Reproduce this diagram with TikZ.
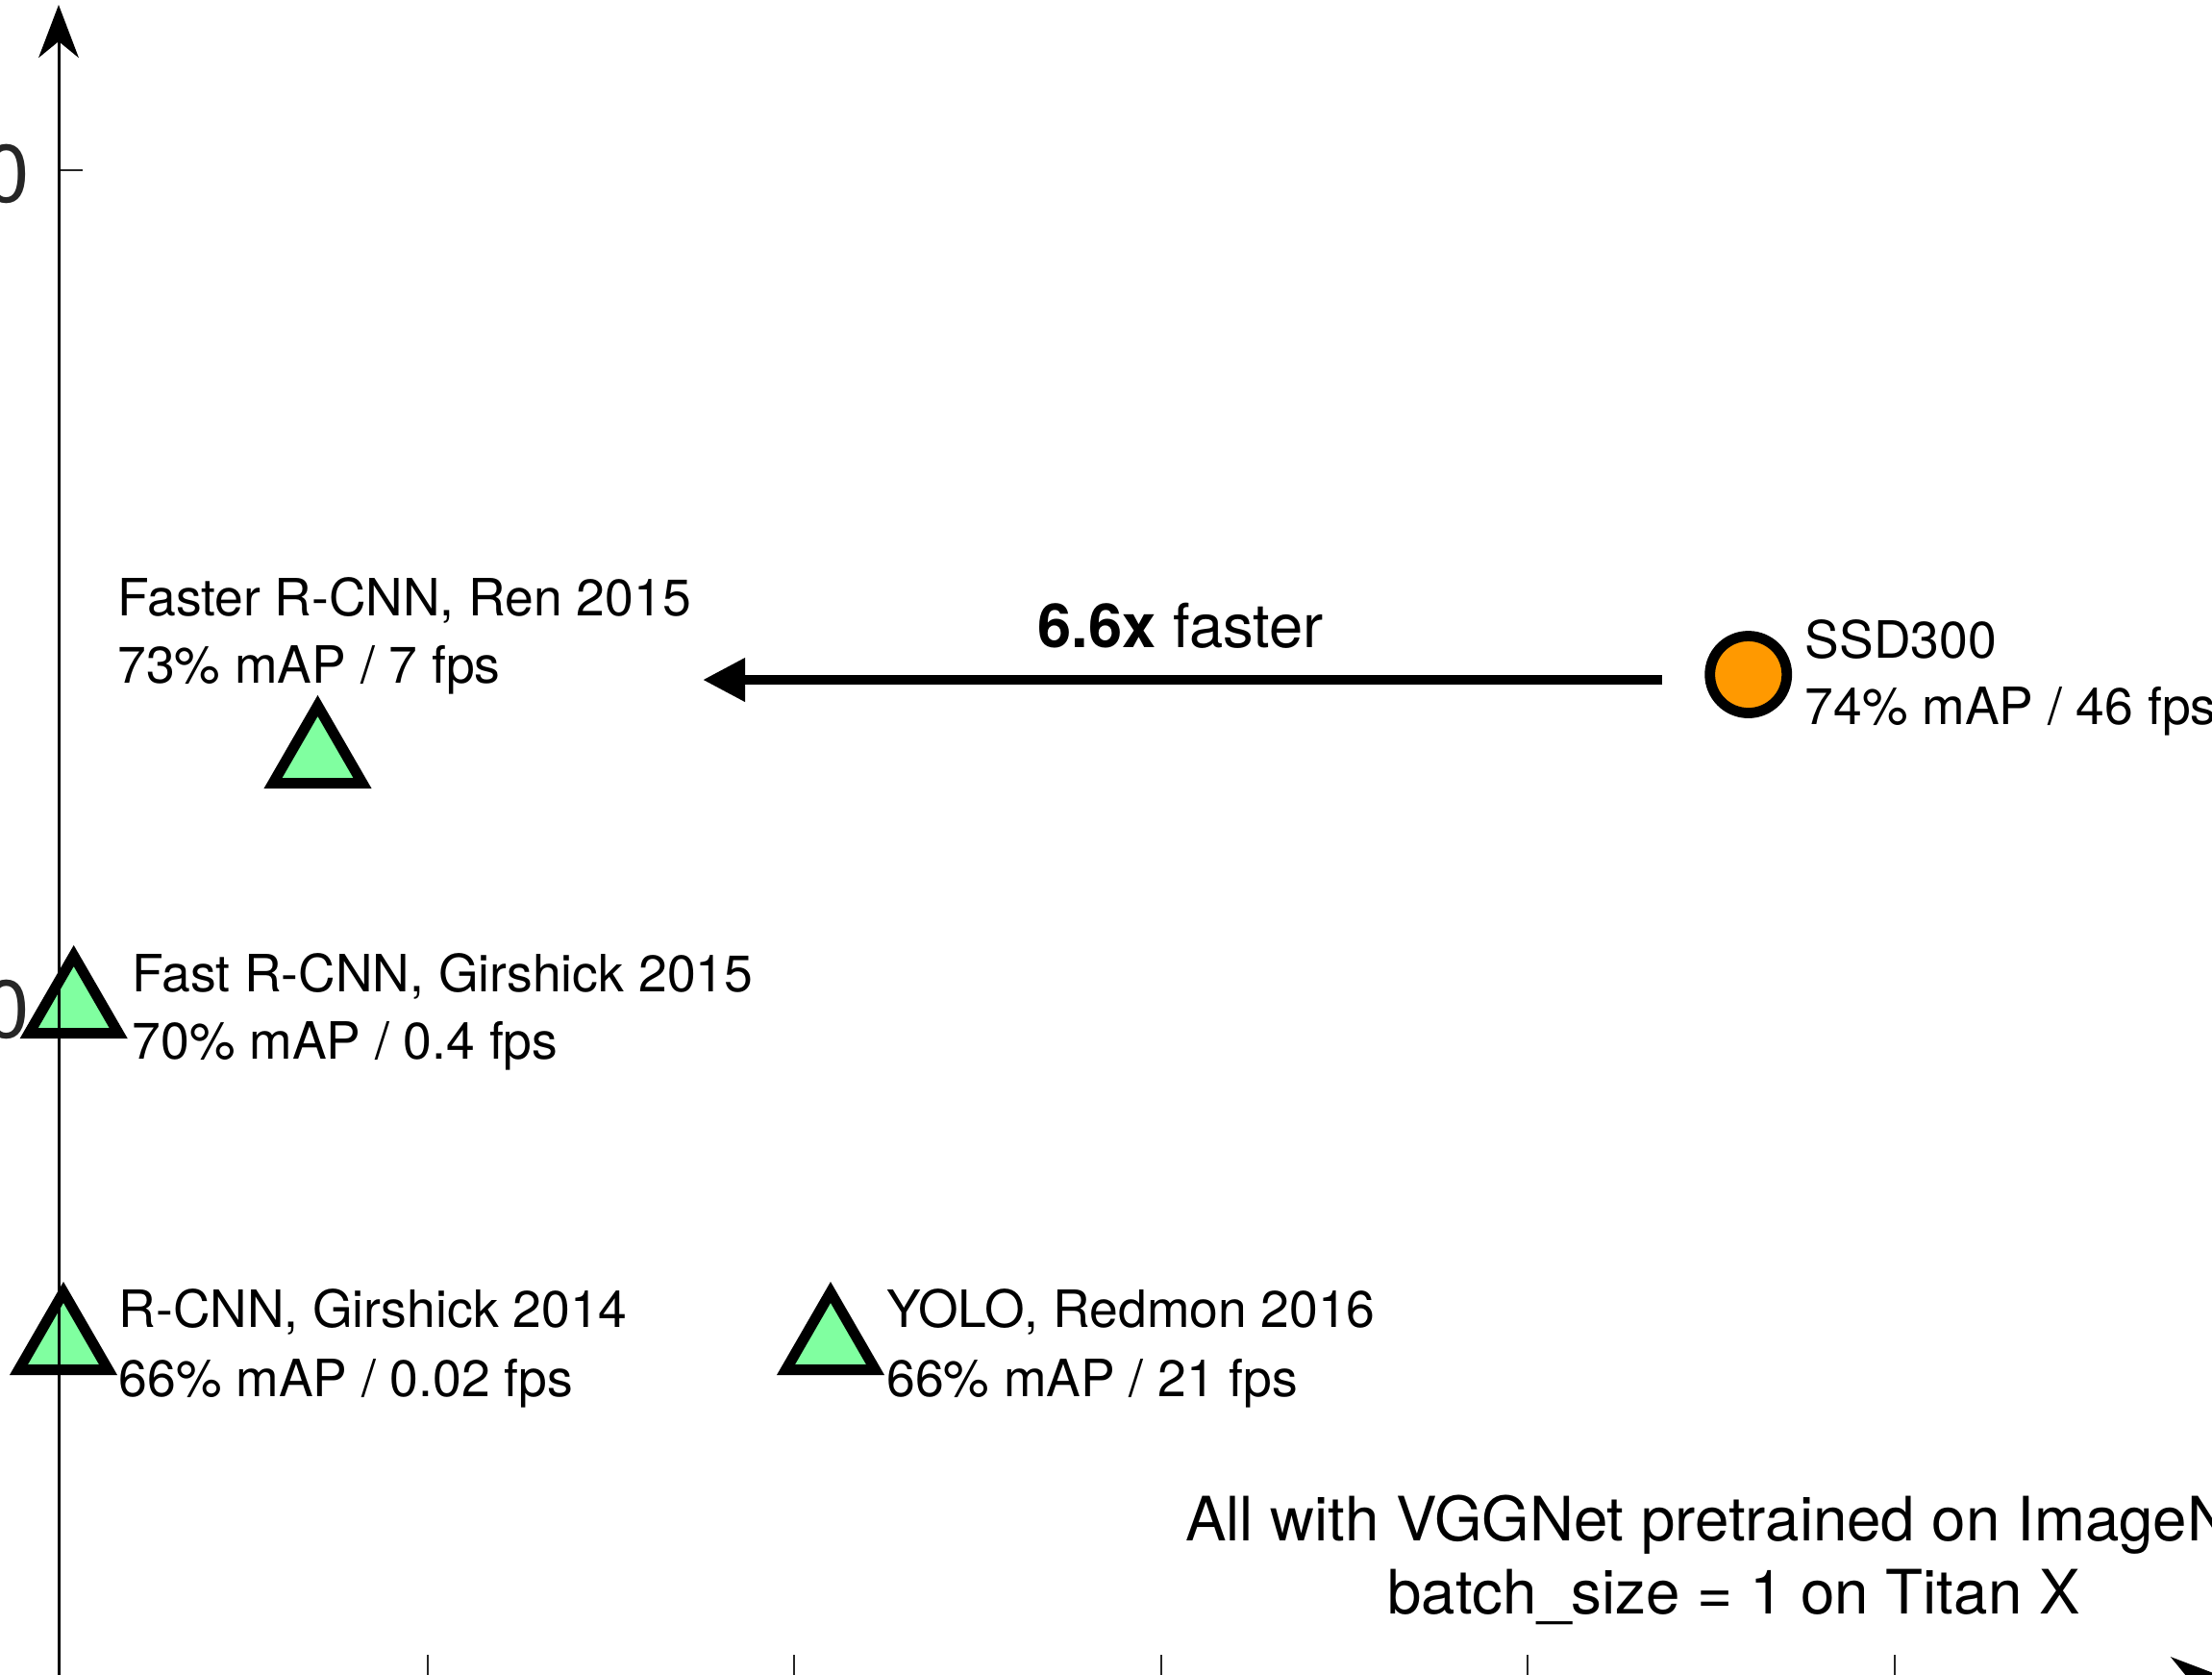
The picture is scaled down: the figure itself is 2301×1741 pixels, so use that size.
\documentclass[tikz,border=0pt]{standalone}
\usepackage{fontspec}
\setmainfont{TeX Gyre Heros}
\usetikzlibrary{arrows.meta,shapes.geometric}
\definecolor{markergreen}{RGB}{128,255,160}
\definecolor{markerorange}{RGB}{255,153,0}
\definecolor{axisgray}{RGB}{38,38,38}
\begin{document}
\begin{tikzpicture}[x=0.01cm,y=-0.01cm,
  axisline/.style={line width=0.03cm,black,-{Stealth[length=0.55cm,width=0.417cm,inset=0.17cm]}},
  tickmark/.style={line width=0.02cm,axisgray},
  ticklabel/.style={font=\fontsize{24.2}{29}\selectfont,text=axisgray,inner sep=0,anchor=base east},
  methodmark/.style={regular polygon,regular polygon sides=3,minimum size=1.074cm,inner sep=0,draw=black,line width=0.11cm,fill=markergreen},
  ssdmark/.style={circle,minimum size=0.8cm,inner sep=0,draw=black,line width=0.108cm,fill=markerorange},
  lbl/.style={font=\fontsize{15.2}{18}\selectfont,inner sep=0,anchor=base west},
  notetext/.style={font=\fontsize{18.1}{21.6}\selectfont,inner sep=0,anchor=base},
  speedtext/.style={font=\fontsize{18}{21}\selectfont,inner sep=0,anchor=base},
  speedup/.style={line width=0.1cm,-{Triangle[length=0.44cm,width=0.43cm]}},
]
\useasboundingbox (0,0) rectangle (2301,1741);
\clip (0,0) rectangle (2301,1741);

% tick labels of the mAP axis
\node[ticklabel] (ylab1) at (32,210) {80};
\node[ticklabel] (ylab2) at (32,1079) {70};

% tick marks
\draw[tickmark] (61,177) -- ++(25,0);
\draw[tickmark] (61,1047) -- ++(25,0);
\foreach \x in {444.6,826.2,1207.7,1589.3,1970.8}
  \draw[tickmark] (\x,1744) -- ++(0,-23);

% detectors
\node[methodmark] (faster) at (330.5,787.7) {};
\node[methodmark] (fast) at (76.7,1047.7) {};
\node[methodmark] (rcnn) at (66,1397.7) {};
\node[methodmark] (yolo) at (864,1397.7) {};
\node[ssdmark] (ssd) at (1818.7,701.5) {};

% axes
\coordinate (origin) at (61,1744);
\coordinate (ytip) at (61,5);
\coordinate (xtip) at (2313,1744);
\draw[axisline] (origin) -- (ytip);
\draw[axisline] (origin) -- (xtip);

% speed-up arrow
\coordinate (arrowstart) at (1729,707);
\coordinate (arrowtip) at (731,707);
\draw[speedup] (arrowstart) -- (arrowtip);
\node[speedtext] (speed) at (1228,673) {\textbf{6.6x} faster};

% detector labels
\node[lbl] (fasterA) at (121.8,640.5) {Faster R-CNN, Ren 2015};
\node[lbl] (fasterB) at (121.8,710) {73\% mAP / 7 fps};
\node[lbl] (fastA) at (137,1031) {Fast R-CNN, Girshick 2015};
\node[lbl] (fastB) at (137,1101.5) {70\% mAP / 0.4 fps};
\node[lbl] (rcnnA) at (123,1380) {R-CNN, Girshick 2014};
\node[lbl] (rcnnB) at (123,1452) {66\% mAP / 0.02 fps};
\node[lbl] (yoloA) at (921.6,1380) {YOLO, Redmon 2016};
\node[lbl] (yoloB) at (921.6,1452) {66\% mAP / 21 fps};
\node[lbl] (ssdA) at (1877,684) {SSD300};
\node[lbl] (ssdB) at (1877,753) {74\% mAP / 46 fps};

% setup note
\node[notetext] (noteA) at (1803.5,1602) {All with VGGNet pretrained on ImageNet};
\node[notetext] (noteB) at (1803.5,1678) {batch\_size = 1 on Titan X};
\end{tikzpicture}
\end{document}
